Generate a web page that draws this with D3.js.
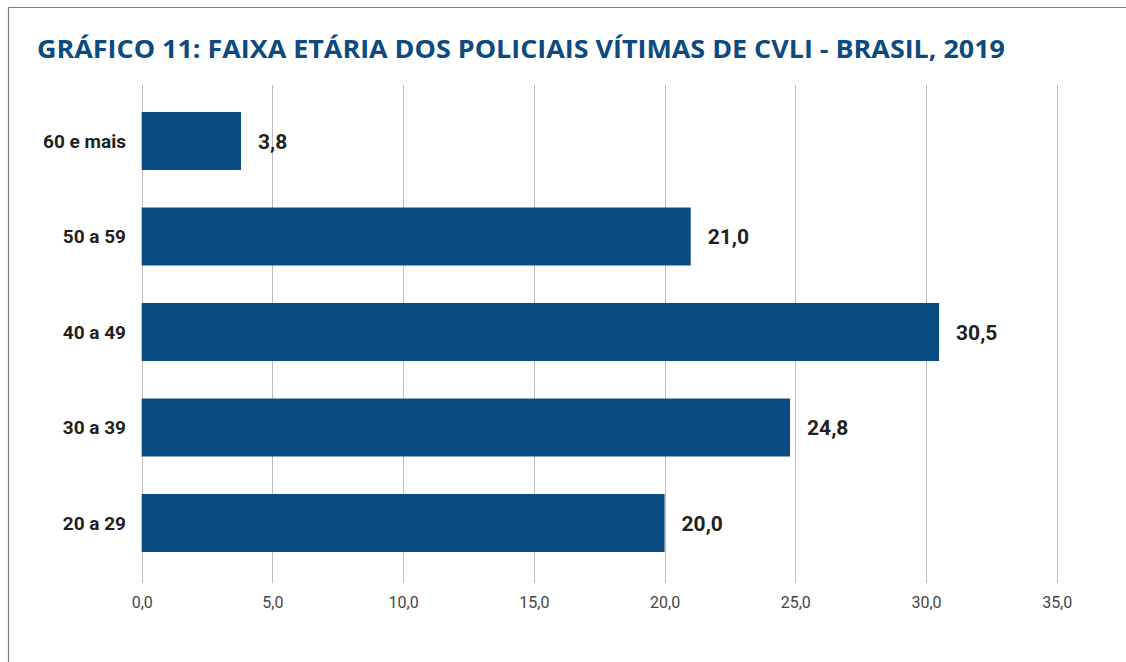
<!DOCTYPE html>
<html>
<head>
<meta charset="utf-8">
<script src="https://cdn.jsdelivr.net/npm/d3@7"></script>
<style>
  html, body { margin: 0; padding: 0; background: #fff; }
  svg { display: block; }
</style>
</head>
<body>
<svg id="chart" width="1126" height="662"></svg>
<script>
const title = "GRÁFICO 11: FAIXA ETÁRIA DOS POLICIAIS VÍTIMAS DE CVLI - BRASIL, 2019";
const categories = ["60 e mais", "50 a 59", "40 a 49", "30 a 39", "20 a 29"];
const values = [3.8, 21.0, 30.5, 24.8, 20.0];
const tickValues = [0, 5, 10, 15, 20, 25, 30, 35];

const svg = d3.select("#chart");
const W = 1126, H = 662;
const fmt = v => d3.format(".1f")(v).replace(".", ",");

// frame (top + left visible)
svg.append("line").attr("x1", 8.5).attr("x2", W).attr("y1", 7.5).attr("y2", 7.5)
  .attr("stroke", "#7a7a7a").attr("stroke-width", 1.2);
svg.append("line").attr("x1", 8.5).attr("x2", 8.5).attr("y1", 7.5).attr("y2", H)
  .attr("stroke", "#7a7a7a").attr("stroke-width", 1.2);

// title
svg.append("text")
  .attr("x", 37).attr("y", 58)
  .attr("font-family", "'Open Sans', sans-serif")
  .attr("font-weight", 700)
  .attr("font-size", 25)
  .attr("fill", "#0c4a80")
  .attr("textLength", 968)
  .attr("lengthAdjust", "spacingAndGlyphs")
  .text(title);

const x = d3.scaleLinear().domain([0, 35]).range([141.7, 1056.7]);
const y = d3.scaleBand().domain(categories).range([85, 579])
  .paddingInner(0.393).paddingOuter(0.283);

const gridTop = 85, gridBottom = 583;

// gridlines
svg.append("g").selectAll("line").data(tickValues).join("line")
  .attr("x1", d => Math.round(x(d)) + 0.5).attr("x2", d => Math.round(x(d)) + 0.5)
  .attr("y1", gridTop).attr("y2", gridBottom)
  .attr("stroke", "#bdbdbd").attr("stroke-width", 1);

// x axis labels
const xAxis = d3.axisBottom(x).tickValues(tickValues).tickFormat(fmt).tickSize(0).tickPadding(0);
const gx = svg.append("g").attr("transform", `translate(0, ${gridBottom + 14})`).call(xAxis);
gx.select(".domain").remove();
gx.selectAll("text")
  .attr("font-family", "Roboto, sans-serif")
  .attr("font-size", 16)
  .attr("fill", "#454545")
  .attr("dy", "0.71em");

// bars
svg.append("g").selectAll("rect").data(categories).join("rect")
  .attr("x", x(0))
  .attr("y", d => y(d))
  .attr("width", (d, i) => x(values[i]) - x(0))
  .attr("height", y.bandwidth())
  .attr("fill", "#0a4b81");

// category labels
const yAxis = d3.axisLeft(y).tickSize(0).tickPadding(0);
const gy = svg.append("g").attr("transform", "translate(126, 0)").call(yAxis);
gy.select(".domain").remove();
gy.selectAll("text")
  .attr("font-family", "Roboto, sans-serif")
  .attr("font-weight", 700)
  .attr("font-size", 19)
  .attr("fill", "#231f20")
  .attr("dy", "0.36em");

// value labels
svg.append("g").selectAll("text").data(categories).join("text")
  .attr("x", (d, i) => x(values[i]) + 17)
  .attr("y", d => y(d) + y.bandwidth() / 2)
  .attr("dy", "0.36em")
  .attr("font-family", "Roboto, sans-serif")
  .attr("font-weight", 700)
  .attr("font-size", 21)
  .attr("fill", "#231f20")
  .text((d, i) => fmt(values[i]));
</script>
</body>
</html>
